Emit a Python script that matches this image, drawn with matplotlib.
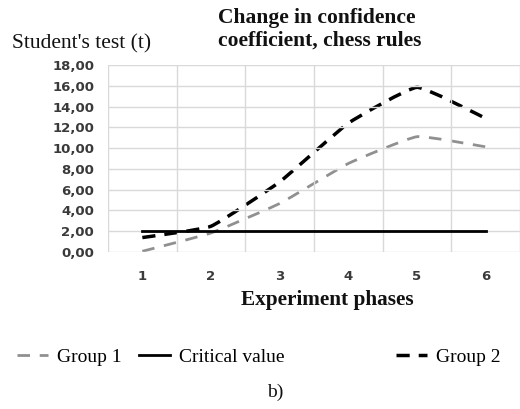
import numpy as np
import matplotlib.pyplot as plt
from matplotlib.path import Path
from matplotlib.patches import PathPatch
from matplotlib.lines import Line2D

# данные
phases = [1, 2, 3, 4, 5, 6]
group1 = [0.07, 1.83, 4.67, 8.52, 11.1, 10.12]
group2 = [1.39, 2.48, 6.75, 12.4, 15.85, 12.86]
critical = [2.02, 2.02, 2.02, 2.02, 2.02, 2.02]
yticks = [0, 2, 4, 6, 8, 10, 12, 14, 16, 18]
ytick_labels = ["0,00", "2,00", "4,00", "6,00", "8,00", "10,00", "12,00", "14,00", "16,00", "18,00"]

serif = "Liberation Serif"
tick_col = "#3a3a3a"


# слегка сглаженная линия (кривые Безье)
def smooth_path(x, y, k=16.0):
    pts = np.column_stack([x, y]).astype(float)
    n = len(pts)
    verts = [pts[0]]
    codes = [Path.MOVETO]
    for i in range(n - 1):
        p0 = pts[max(i - 1, 0)]
        p1 = pts[i]
        p2 = pts[i + 1]
        p3 = pts[min(i + 2, n - 1)]
        c1 = p1 + (p2 - p0) / k
        c2 = p2 - (p3 - p1) / k
        verts += [c1, c2, p2]
        codes += [Path.CURVE4] * 3
    return Path(verts, codes)


fig = plt.figure(figsize=(5.2, 4.09), dpi=100)
ax = fig.add_axes([108 / 520, 1 - 252 / 409, 1 - 108 / 520, (252 - 65) / 409])

g1_style = dict(color="#909090", lw=2.0, ls=(0, (4.5, 3.5)))
g2_style = dict(color="black", lw=2.5, ls=(0, (3.8, 2.6)))
cr_style = dict(color="black", lw=2.0, ls="-")

ax.add_patch(PathPatch(smooth_path(phases, group1), fill=False, edgecolor=g1_style["color"],
                       lw=g1_style["lw"], ls=g1_style["ls"], capstyle="butt"))
ax.plot(phases, critical, color=cr_style["color"], lw=cr_style["lw"])
ax.add_patch(PathPatch(smooth_path(phases, group2), fill=False, edgecolor=g2_style["color"],
                       lw=g2_style["lw"], ls=g2_style["ls"], capstyle="butt"))

ax.set_xlim(0.5, 6.5)
ax.set_ylim(0, 18)
ax.set_yticks(yticks)
ax.set_yticklabels(ytick_labels)
ax.set_xticks(phases)
ax.set_xticks(np.arange(0.5, 7, 1), minor=True)
ax.grid(True, which="minor", axis="x", color="#d9d9d9", lw=1)
ax.grid(True, which="major", axis="y", color="#d9d9d9", lw=1)
ax.tick_params(which="both", length=0)
ax.tick_params(axis="y", pad=10, labelsize=9.5, labelcolor=tick_col)
ax.tick_params(axis="x", pad=13, labelsize=9.5, labelcolor=tick_col)
for lab in ax.get_xticklabels() + ax.get_yticklabels():
    lab.set_fontweight("bold")
for s in ax.spines.values():
    s.set_visible(False)

# подписи
fig.text(218 / 520, 1 - 8 / 409, "Change in confidence\ncoefficient, chess rules", ha="left", va="top",
         fontsize=15.5, fontweight="bold", family=serif, linespacing=1.2, color="#111111")
fig.text(12 / 520, 1 - 48 / 409, "Student's test (t)", ha="left", va="baseline",
         fontsize=15.5, family=serif, color="#111111")
fig.text(327 / 520, 1 - 305 / 409, "Experiment phases", ha="center", va="baseline",
         fontsize=15.3, fontweight="bold", family=serif, color="#111111")
fig.text(275 / 520, 1 - 392 / 409, "b)", ha="center", va="center",
         fontsize=14, family=serif, color="#111111")

# легенда
h1 = Line2D([], [], **g1_style)
h_cr = Line2D([], [], **cr_style)
h2 = Line2D([], [], **g2_style)
leg_kw = dict(frameon=False, prop={"family": serif, "size": 14}, handlelength=1.6,
              handletextpad=0.45, columnspacing=0.9, borderpad=0, borderaxespad=0)
fig.legend([h1, h_cr], ["Group 1", "Critical value"], ncol=2, loc="center left",
           bbox_to_anchor=(17 / 520, 1 - 357 / 409), **leg_kw)
fig.legend([h2], ["Group 2"], ncol=1, loc="center left",
           bbox_to_anchor=(396 / 520, 1 - 357 / 409), **leg_kw)

fig.savefig("out.png", dpi=100)
